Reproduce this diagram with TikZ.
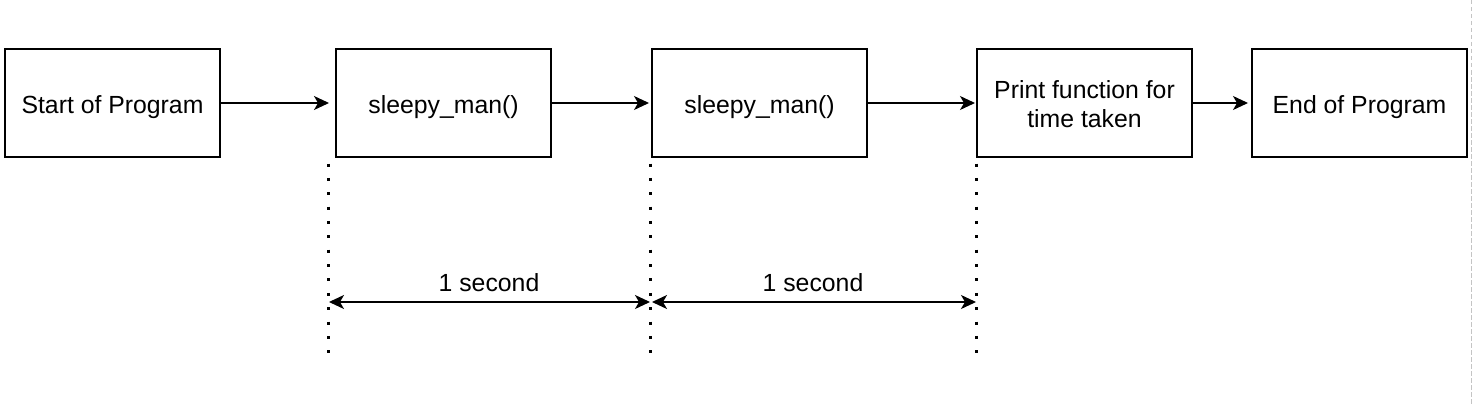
\documentclass[tikz,border=0pt]{standalone}
\usepackage{fontspec}
\setmainfont{Liberation Sans}
\usetikzlibrary{arrows.meta,positioning}
\definecolor{pagegrey}{HTML}{C4C4C4}

\begin{document}
\begin{tikzpicture}[x=1pt,y=-1pt,>={Stealth[length=15pt,width=14pt,inset=4pt]},
  every node/.style={font=\fontsize{24.8}{29}\selectfont},
  block/.style={draw,line width=1.3pt,minimum width=215pt,minimum height=108pt,align=center,
    inner sep=0pt,outer sep=0pt,text height=22pt,text depth=2pt},
  flow/.style={->,line width=1.3pt},
  tick/.style={line width=3pt,dash pattern=on 3pt off 11.37pt}]
\useasboundingbox (0,0) rectangle (1472,404);
\node[block] (start) at (112.5,103) {Start of Program};
\node[block,right=116pt of start] (sleep1) {sleepy\_man()};
\node[block,right=101pt of sleep1] (sleep2) {sleepy\_man()};
\node[block,right=110pt of sleep2,text height=51pt] (print) {Print function for\\time taken};
\node[block,right=60pt of print] (end) {End of Program};
\draw[flow,shorten >=7pt] (start) -- (sleep1);
\draw[flow,shorten >=3pt] (sleep1) -- (sleep2);
\draw[flow,shorten >=2pt] (sleep2) -- (print);
\draw[flow,shorten >=4pt] (print) -- (end);
% time marks
\coordinate (m0top) at (328,163.5); \coordinate (m0bot) at (328,353.5);
\coordinate (m1top) at (650,163.5); \coordinate (m1bot) at (650,353.5);
\coordinate (m2top) at (976,163.5); \coordinate (m2bot) at (976,353.5);
\draw[tick] (m0top) -- (m0bot);
\draw[tick] (m1top) -- (m1bot);
\draw[tick] (m2top) -- (m2bot);
\coordinate (t0) at (328,302); \coordinate (t1) at (650,302); \coordinate (t2) at (976,302);
\draw[<->,line width=1.3pt,shorten <=1pt] (t0) -- node[above=10pt,inner sep=0pt] (lab1) {1 second} (t1);
\draw[<->,line width=1.3pt,shorten <=2pt] (t1) -- node[above=10pt,inner sep=0pt] (lab2) {1 second} (t2);
% page edge
\draw[pagegrey,line width=1pt,dash pattern=on 4.5pt off 2.5pt] (1471,0) -- (1471,404);
\end{tikzpicture}
\end{document}
